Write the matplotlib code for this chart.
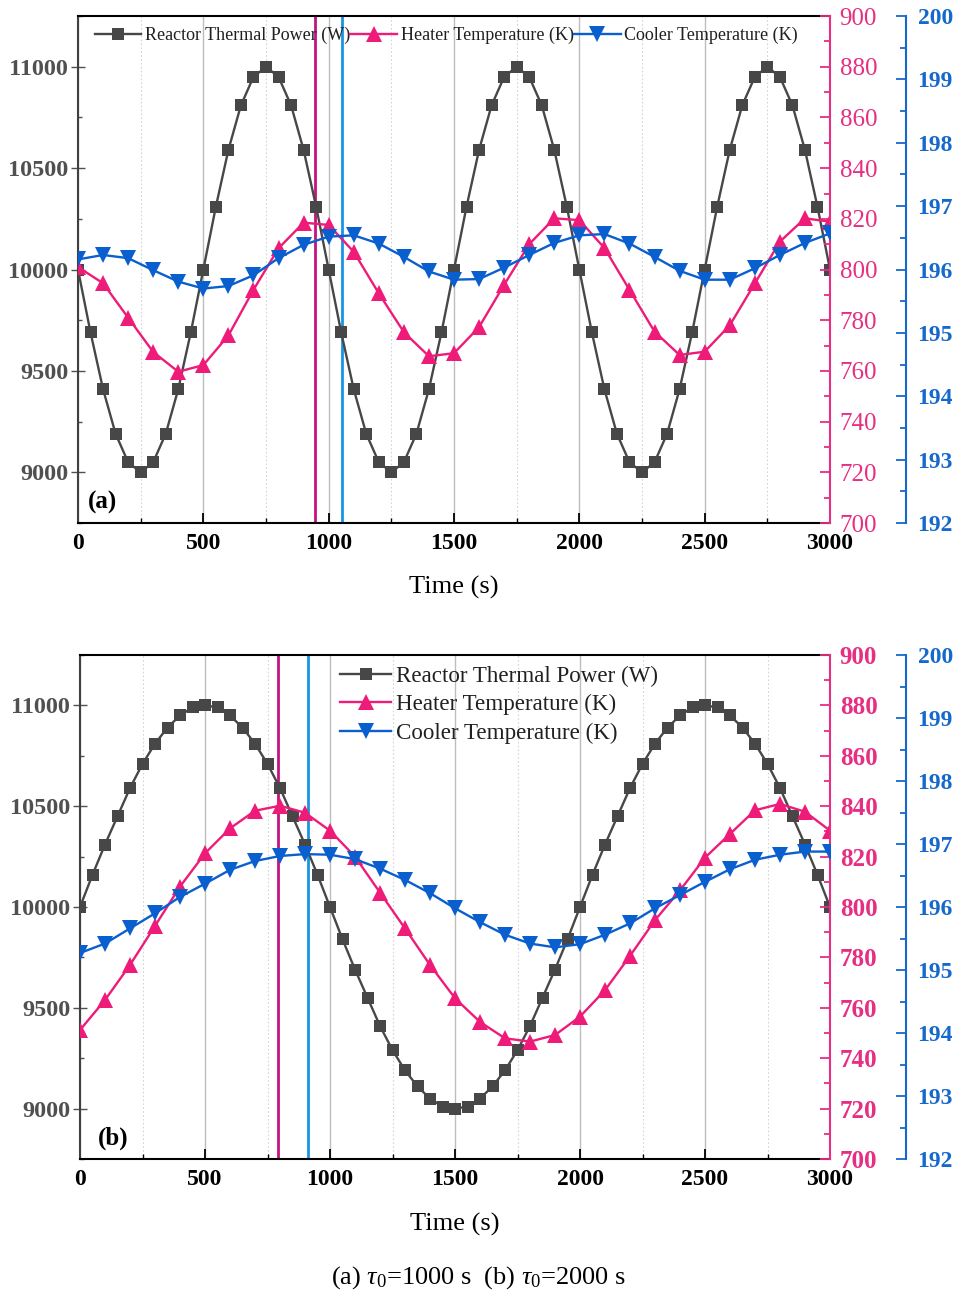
import numpy as np
import matplotlib
matplotlib.use("Agg")
import matplotlib.pyplot as plt
from matplotlib.ticker import MultipleLocator

plt.rcParams['font.family'] = ['Liberation Serif', 'DejaVu Serif']
plt.rcParams['mathtext.fontset'] = 'custom'
plt.rcParams['mathtext.rm'] = 'Liberation Serif'
plt.rcParams['mathtext.it'] = 'Liberation Serif:italic'

# ---------------- data ----------------
t_power = np.arange(0, 3001, 50)
t_temp = np.arange(0, 3001, 100)

# (a) tau0 = 1000 s
power_a = [10000, 9690, 9410, 9190, 9050, 9000, 9050, 9190, 9410, 9690,
           10000, 10310, 10590, 10810, 10950, 11000, 10950, 10810, 10590, 10310,
           10000, 9690, 9410, 9190, 9050, 9000, 9050, 9190, 9410, 9690,
           10000, 10310, 10590, 10810, 10950, 11000, 10950, 10810, 10590, 10310,
           10000, 9690, 9410, 9190, 9050, 9000, 9050, 9190, 9410, 9690,
           10000, 10310, 10590, 10810, 10950, 11000, 10950, 10810, 10590, 10310,
           10000]
heater_a = [801.0, 794.6, 781.0, 767.5, 759.7, 762.3, 774.0, 792.0, 808.4, 818.5,
            817.6, 807.0, 790.6, 775.3, 765.8, 767.0, 777.3, 794.0, 810.0, 820.2,
            819.5, 808.5, 792.0, 775.5, 766.3, 767.6, 778.0, 794.5, 811.0, 820.2,
            818.9]
cooler_a = [196.16, 196.23, 196.18, 195.99, 195.81, 195.70, 195.74, 195.91, 196.18, 196.39,
            196.52, 196.54, 196.41, 196.20, 195.97, 195.84, 195.85, 196.03, 196.23, 196.42,
            196.54, 196.56, 196.41, 196.20, 195.98, 195.84, 195.84, 196.02, 196.23, 196.42,
            196.57]
peak_heater_a = 945
peak_cooler_a = 1054

# (b) tau0 = 2000 s
power_b = [10000, 10160, 10310, 10450, 10590, 10710, 10810, 10890, 10950, 10990,
           11000, 10990, 10950, 10890, 10810, 10710, 10590, 10450, 10310, 10160,
           10000, 9840, 9690, 9550, 9410, 9290, 9190, 9110, 9050, 9010,
           9000, 9010, 9050, 9110, 9190, 9290, 9410, 9550, 9690, 9840,
           10000, 10160, 10310, 10450, 10590, 10710, 10810, 10890, 10950, 10990,
           11000, 10990, 10950, 10890, 10810, 10710, 10590, 10450, 10310, 10160,
           10000]
heater_b = [751.2, 763.1, 777.0, 792.5, 808.1, 821.3, 831.2, 838.2, 840.2, 837.4,
            830.3, 820.0, 805.7, 791.5, 777.0, 763.8, 754.4, 747.9, 746.6, 749.2,
            756.5, 767.0, 780.6, 794.8, 806.6, 819.6, 829.0, 838.4, 840.9, 837.8,
            830.3]
cooler_b = [195.27, 195.42, 195.66, 195.90, 196.16, 196.37, 196.59, 196.73, 196.81, 196.84,
            196.83, 196.76, 196.61, 196.43, 196.22, 195.98, 195.76, 195.56, 195.42, 195.36,
            195.41, 195.56, 195.74, 195.98, 196.19, 196.40, 196.60, 196.75, 196.83, 196.88,
            196.88]
peak_heater_b = 793
peak_cooler_b = 911

labels = ['Reactor Thermal Power (W)', 'Heater Temperature (K)', 'Cooler Temperature (K)']

# ---------------- style ----------------
C_POWER = '#474747'
C_HEATER = '#EE1B79'
C_COOLER = '#0A5FCF'
C_HEATER_AX = '#E62E82'
C_COOLER_AX = '#1669CC'
C_VH = '#C4127F'
C_VC = '#1895E2'
LEFT_LABEL = '#505050'

fig = plt.figure(figsize=(9.57, 12.95), dpi=100)


def panel(rect, power, heater, cooler, vh, vc, tag, tag_x, pink_bold, xlabelpad):
    ax = fig.add_axes(rect)
    axh = ax.twinx()
    axc = ax.twinx()

    # vertical grid: solid at major, dotted at minor ticks
    ax.xaxis.set_major_locator(MultipleLocator(500))
    ax.xaxis.set_minor_locator(MultipleLocator(250))
    ax.grid(which='major', axis='x', color='#BDBDBD', lw=1.0)
    ax.grid(which='minor', axis='x', color='#D5D5D5', lw=0.8, ls=(0, (1.5, 2)))
    ax.set_axisbelow(True)

    ax.axvline(vh, color=C_VH, lw=2.0, zorder=1)
    ax.axvline(vc, color=C_VC, lw=2.0, zorder=1)

    lp, = ax.plot(t_power, power, color=C_POWER, lw=1.7, marker='s', ms=8.5,
                  markeredgewidth=0, zorder=3)
    lh, = axh.plot(t_temp, heater, color=C_HEATER, lw=1.7, marker='^', ms=11.5,
                   markeredgewidth=0)
    lc, = axc.plot(t_temp, cooler, color=C_COOLER, lw=1.7, marker='v', ms=11.5,
                   markeredgewidth=0)

    ax.set_xlim(0, 3000)
    ax.set_ylim(8750, 11250)
    axh.set_ylim(700, 900)
    axc.set_ylim(192, 200)

    ax.yaxis.set_major_locator(MultipleLocator(500))
    ax.yaxis.set_minor_locator(MultipleLocator(250))
    axh.yaxis.set_major_locator(MultipleLocator(20))
    axh.yaxis.set_minor_locator(MultipleLocator(10))
    axc.yaxis.set_major_locator(MultipleLocator(1))
    axc.yaxis.set_minor_locator(MultipleLocator(0.5))

    # spines
    ax.spines['right'].set_visible(False)
    ax.spines['top'].set_color('black')
    ax.spines['top'].set_linewidth(1.5)
    ax.spines['bottom'].set_linewidth(1.5)
    ax.spines['left'].set_color('#404040')
    ax.spines['left'].set_linewidth(1.5)
    for a in (axh, axc):
        for s in ('top', 'bottom', 'left'):
            a.spines[s].set_visible(False)
    axh.spines['right'].set_color(C_HEATER_AX)
    axh.spines['right'].set_linewidth(1.5)
    axc.spines['right'].set_color(C_COOLER_AX)
    axc.spines['right'].set_linewidth(1.5)
    axc.spines['right'].set_position(('outward', 55))

    # ticks
    ax.tick_params(axis='x', which='major', direction='in', length=7, width=1.3,
                   pad=7, labelsize=17, top=False)
    ax.tick_params(axis='x', which='minor', direction='in', length=3.5, width=1.0,
                   top=False)
    ax.tick_params(axis='y', which='major', direction='inout', length=10, width=1.0,
                   pad=2, labelsize=17.5, colors=LEFT_LABEL)
    ax.tick_params(axis='y', which='minor', direction='in', length=3, width=1.0,
                   colors=LEFT_LABEL)
    for lab in ax.get_xticklabels():
        lab.set_fontweight('bold')
    for lab in ax.get_yticklabels():
        lab.set_fontweight('bold')

    axh.tick_params(axis='y', which='major', direction='in', length=7, width=1.3,
                    pad=7, labelsize=18, colors=C_HEATER_AX)
    axh.tick_params(axis='y', which='minor', direction='in', length=4.5, width=1.3,
                    colors=C_HEATER_AX)
    axc.tick_params(axis='y', which='major', direction='in', length=7, width=1.3,
                    pad=8, labelsize=17, colors=C_COOLER_AX)
    axc.tick_params(axis='y', which='minor', direction='in', length=4, width=1.3,
                    colors=C_COOLER_AX)
    for lab in axc.get_yticklabels():
        lab.set_fontweight('bold')
    if pink_bold:
        for lab in axh.get_yticklabels():
            lab.set_fontweight('bold')

    ax.set_xlabel('Time (s)', fontsize=19, labelpad=xlabelpad)
    ax.text(tag_x, 0.018, tag, transform=ax.transAxes,
            fontsize=18, fontweight='bold', ha='left', va='bottom')
    return ax, [lp, lh, lc]


ax_a, h_a = panel([0.0815, 0.5961, 0.7858, 0.3915], power_a, heater_a, cooler_a,
                  peak_heater_a, peak_cooler_a, '(a)', 0.013, False, 16)
ax_b, h_b = panel([0.0836, 0.1050, 0.7837, 0.3892], power_b, heater_b, cooler_b,
                  peak_heater_b, peak_cooler_b, '(b)', 0.024, True, 17)

leg_a = ax_a.legend(h_a, labels, ncol=3, loc='center left', bbox_to_anchor=(0.022, 0.962),
                    frameon=False, fontsize=13, handlelength=2.6, handletextpad=0.2,
                    columnspacing=0.0, borderpad=0, borderaxespad=0)
leg_b = ax_b.legend(h_b, labels, ncol=1, loc='center left', bbox_to_anchor=(0.347, 0.901),
                    frameon=False, fontsize=16.6, handlelength=2.2, handletextpad=0.2,
                    labelspacing=0.3, borderpad=0, borderaxespad=0)
for leg in (leg_a, leg_b):
    leg.set_zorder(10)
    for t in leg.get_texts():
        t.set_color('#202020')

fig.text(0.5, 0.003, r'(a) $\tau_{\mathit{0}}$=1000 s  (b) $\tau_{\mathit{0}}$=2000 s',
         ha='center', va='bottom', fontsize=19)

fig.savefig('out.png', dpi=100)
